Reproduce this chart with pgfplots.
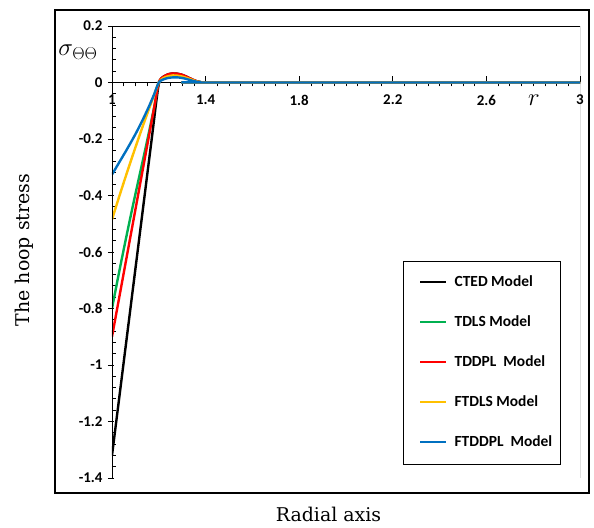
\documentclass[border=0pt]{standalone}
\usepackage{fontspec}
\setmainfont{DejaVu Serif}
\newfontfamily\carlito{Carlito}
\usepackage{pgfplots}
\pgfplotsset{compat=1.18}
\definecolor{cgreen}{RGB}{0,176,80}
\definecolor{cred}{RGB}{255,0,0}
\definecolor{cyellow}{RGB}{255,192,0}
\definecolor{cblue}{RGB}{0,112,192}
\begin{document}
\begin{tikzpicture}[x=1bp,y=1bp]
\path[use as bounding box] (-112,-50) rectangle (482,478);
\begin{axis}[
  scale only axis, width=468bp, height=452bp,
  at={(0,0)}, anchor=south west,
  xmin=1, xmax=3, ymin=-1.4, ymax=0.2,
  axis x line=middle, axis y line=left,
  axis line style={-, black, line width=0.9bp},
  hide obscured x ticks=false, hide obscured y ticks=false,
  xtick={1,1.4,1.8,2.2,2.6,3}, xticklabels={1,1.4,1.8,2.2,2.6,3},
  ytick={-1.4,-1.2,-1,-0.8,-0.6,-0.4,-0.2,0,0.2},
  yticklabels={-1.4,-1.2,-1,-0.8,-0.6,-0.4,-0.2,0,0.2},
  minor x tick num=7, minor y tick num=4,
  tick align=center, major tick length=6bp, minor tick length=4bp,
  every major x tick/.append style={yshift=3bp},
  every minor x tick/.append style={yshift=-2bp},
  every major y tick/.append style={xshift=-1bp},
  every minor y tick/.append style={xshift=2bp},
  tick style={black, line width=0.8bp},
  ticklabel style={font=\carlito\bfseries\fontsize{15}{16}\selectfont},
  xticklabel style={yshift=-6bp},
  yticklabel style={xshift=-3bp},
  legend cell align=left,
  legend image code/.code={\draw[#1] (0bp,0bp) -- (26bp,0bp);},
  legend style={draw=none, fill=none, at={(0.656,0.256)}, anchor=west,
    inner sep=0pt, row sep=29bp,
    font=\carlito\bfseries\fontsize{15.5}{16}\selectfont,
    nodes={inner sep=0pt, text height=10bp, text depth=1bp},
    /tikz/every odd column/.append style={column sep=7bp}},
  every axis plot/.append style={line width=2.4bp, smooth, no markers},
]
\addplot[black] coordinates {(1,-1.32) (1.02,-1.188) (1.04,-1.056) (1.06,-0.924) (1.08,-0.792) (1.10,-0.66) (1.12,-0.528) (1.14,-0.396) (1.16,-0.264) (1.17,-0.198) (1.18,-0.13) (1.19,-0.062) (1.20,-0.005) (1.21,0.014) (1.22,0.021) (1.24,0.029) (1.26,0.032) (1.28,0.031) (1.30,0.027) (1.32,0.02) (1.34,0.012) (1.36,0.005) (1.38,0.001) (1.40,0) (3,0)};
\addlegendentry{CTED Model}
\addplot[cgreen] coordinates {(1,-0.80) (1.02,-0.715) (1.04,-0.632) (1.06,-0.551) (1.08,-0.472) (1.10,-0.395) (1.12,-0.32) (1.14,-0.245) (1.16,-0.168) (1.18,-0.088) (1.20,0) (1.22,0.016) (1.24,0.023) (1.26,0.025) (1.28,0.024) (1.30,0.021) (1.32,0.016) (1.34,0.009) (1.36,0.004) (1.38,0.001) (1.40,0) (3,0)};
\addlegendentry{TDLS Model}
\addplot[cred] coordinates {(1,-0.90) (1.02,-0.81) (1.04,-0.72) (1.06,-0.63) (1.08,-0.54) (1.10,-0.45) (1.12,-0.36) (1.14,-0.27) (1.16,-0.18) (1.18,-0.09) (1.20,0) (1.22,0.02) (1.24,0.029) (1.26,0.032) (1.28,0.031) (1.30,0.027) (1.32,0.02) (1.34,0.012) (1.36,0.005) (1.38,0.001) (1.40,0) (3,0)};
\addlegendentry{TDDPL~ Model}
\addplot[cyellow] coordinates {(1,-0.485) (1.02,-0.432) (1.04,-0.38) (1.06,-0.329) (1.08,-0.279) (1.10,-0.23) (1.12,-0.182) (1.14,-0.135) (1.16,-0.089) (1.18,-0.044) (1.20,0) (1.22,0.016) (1.24,0.022) (1.26,0.025) (1.28,0.024) (1.30,0.021) (1.32,0.016) (1.34,0.01) (1.36,0.004) (1.38,0.001) (1.40,0) (3,0)};
\addlegendentry{FTDLS Model}
\addplot[cblue] coordinates {(1,-0.326) (1.02,-0.298) (1.04,-0.27) (1.06,-0.242) (1.08,-0.213) (1.10,-0.183) (1.12,-0.151) (1.14,-0.117) (1.16,-0.081) (1.18,-0.042) (1.20,0) (1.22,0.011) (1.24,0.016) (1.26,0.018) (1.28,0.018) (1.30,0.016) (1.32,0.012) (1.34,0.007) (1.36,0.003) (1.38,0.001) (1.40,0) (3,0)};
\addlegendentry{FTDDPL~ Model}
\draw[black, line width=0.6bp] (rel axis cs:0,0) rectangle (rel axis cs:1,1);
\draw[black, line width=0.9bp] (rel axis cs:0.622,0.031) rectangle (rel axis cs:0.959,0.48);
\end{axis}
\draw[black, line width=2bp] (-57,-15) rectangle (477,468);
\node[font=\fontsize{25}{25}\selectfont] at (-34,426) {$\sigma_{\Theta\Theta}$};
\node[font=\fontsize{27}{27}\selectfont] at (422,378) {$r$};
\node[rotate=90, font=\fontsize{19}{20}\selectfont] at (-88,228) {The hoop stress};
\node[font=\fontsize{19}{20}\selectfont] at (216.5,-36) {Radial axis};
\end{tikzpicture}
\end{document}
